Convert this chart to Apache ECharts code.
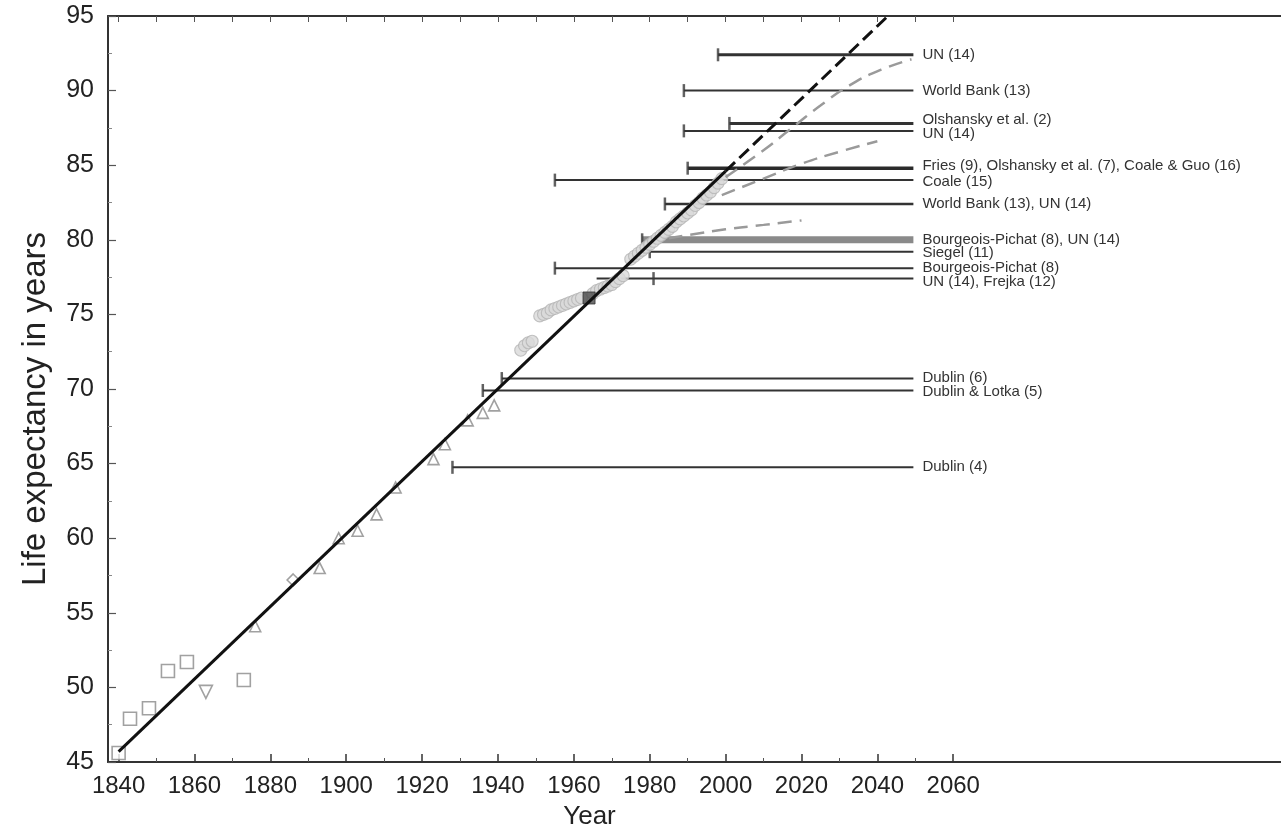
<!DOCTYPE html>
<html><head><meta charset="utf-8">
<script src="https://cdn.jsdelivr.net/npm/echarts@6/dist/echarts.min.js"></script>
<style>html,body{margin:0;padding:0;background:#fff}#c{width:1281px;height:840px}</style>
</head><body><div id="c"></div>
<script>
// ---- tick labels ----
const xTickLabels = [1840,1860,1880,1900,1920,1940,1960,1980,2000,2020,2040,2060];
const xMinorTicks = [1850,1870,1890,1910,1930,1950,1970,1990,2010,2030,2050];

// ---- trend line (record female life expectancy) ----
const trendSolid = [[1840,45.7],[2000,84.6]];
const trendDashed = [[2000,84.6],[2043,95.05]];

// ---- projection curves (gray dashed) ----
const projHigh = [[2000,84.2],[2010,86.0],[2017,87.4],[2025,89.0],[2033,90.4],[2041,91.4],[2049,92.1]];
const projMid  = [[1999,83.0],[2010,84.1],[2020,85.1],[2030,85.9],[2040,86.6]];
const projLow  = [[1985,80.1],[2000,80.7],[2010,81.0],[2020,81.3]];

// ---- asserted ceilings ----
const ceilNames = ['UN (14)','World Bank (13)','Olshansky et al. (2)','UN (14)',
  'Fries (9), Olshansky et al. (7), Coale & Guo (16)','Coale (15)','World Bank (13), UN (14)',
  'Bourgeois-Pichat (8), UN (14)','Siegel (11)','Bourgeois-Pichat (8)','UN (14), Frejka (12)',
  'Dublin (6)','Dublin & Lotka (5)','Dublin (4)'];
const ceilValues = [92.4,90.0,87.8,87.3,84.8,84.0,82.4,80.0,79.2,78.1,77.4,70.7,69.9,64.75];
const ceilStarts = [1998,1989,2001,1989,1990,1955,1984,1978,1980,1955,1966,1941,1936,1928];
const ceilEnd = 2049.5;
// publication-year ticks at the left end of the ceilings
const pubTickYears  = [1998,1989,2001,1989,1990,1955,1984,1978,1980,1955,1981,1941,1936,1928];
const pubTickValues = [92.4,90.0,87.8,87.3,84.8,84.0,82.4,80.0,79.2,78.1,77.4,70.7,69.9,64.75];

// ---- observed records ----
const squareYears = [1840,1843,1848,1853,1858,1873];
const squareValues = [45.6,47.9,48.6,51.1,51.7,50.5];
const downTriYears = [1863];
const downTriValues = [49.7];
const upTriYears = [1876,1893,1898,1903,1908,1913,1923,1926,1932,1936,1939];
const upTriValues = [54.1,58.0,60.0,60.5,61.6,63.4,65.3,66.3,67.9,68.4,68.9];
const diamondYears = [1886];
const diamondValues = [57.2];
const circleYears = [1946,1947,1948,1949,1951,1952,1953,1954,1955,1956,1957,1958,1959,1960,1961,1962,
  1965,1966,1967,1968,1969,1970,1971,1972,1973,1975,1976,1977,1978,1979,1980,1981,1982,1983,1984,
  1985,1986,1987,1988,1989,1990,1991,1992,1993,1994,1995,1996,1997,1998,1999];
const circleValues = [72.6,72.9,73.1,73.2,74.9,75.0,75.1,75.3,75.4,75.5,75.6,75.7,75.8,75.9,76.0,76.1,
  76.4,76.6,76.7,76.8,76.9,77.0,77.2,77.4,77.6,78.7,78.9,79.1,79.3,79.5,79.7,79.9,80.1,80.3,80.5,
  80.7,80.9,81.2,81.4,81.6,81.8,82.0,82.3,82.5,82.8,83.0,83.2,83.5,83.8,84.1];
const darkSquareYears = [1964];
const darkSquareValues = [76.1];

// ---- styles (not data) ----
const ceilWidth = [3,2,3,2,3.5,2,2.5,7,2,2,2,2,2,2];
const ceilColor = ['#333','#333','#333','#333','#2a2a2a','#333','#333','#8a8a8a','#333','#333','#333','#333','#333','#333'];
const ceilLabelDy = [0,0,-4,3,-2,2,0,0,1,0,3,-1,1,0];

const FONT = "'Liberation Sans', Arial, sans-serif";
const zip = (a,b) => a.map((v,i)=>[v,b[i]]);

const series = [];
ceilNames.forEach((nm,i)=>{
  series.push({
    type:'line', name:nm, z:2, silent:true, symbol:'none',
    data:[[ceilStarts[i],ceilValues[i]],[ceilEnd,ceilValues[i]]],
    lineStyle:{color:ceilColor[i], width:ceilWidth[i]},
    endLabel:{show:true, formatter:nm, fontFamily:FONT, fontSize:15, color:'#333', distance:9, offset:[0,ceilLabelDy[i]]}
  });
});
series.push({
  type:'scatter', z:3, symbol:'rect', symbolSize:[2.5,13],
  itemStyle:{color:'#3a3a3a'},
  data: zip(pubTickYears, pubTickValues)
});
const hollow = {color:'#fff', borderColor:'#8a8a8a', borderWidth:1.6};
series.push({type:'scatter', z:4, symbol:'rect', symbolSize:13, itemStyle:hollow, data:zip(squareYears,squareValues)});
series.push({type:'scatter', z:4, symbol:'triangle', symbolRotate:180, symbolSize:13, itemStyle:hollow, data:zip(downTriYears,downTriValues)});
series.push({type:'scatter', z:4, symbol:'triangle', symbolSize:11, itemStyle:hollow, data:zip(upTriYears,upTriValues)});
series.push({type:'scatter', z:4, symbol:'diamond', symbolSize:12, itemStyle:hollow, data:zip(diamondYears,diamondValues)});
series.push({type:'scatter', z:4, symbol:'circle', symbolSize:12,
  itemStyle:{color:'#dadada', borderColor:'#b4b4b4', borderWidth:1.1}, data:zip(circleYears,circleValues)});
series.push({type:'scatter', z:5, symbol:'rect', symbolSize:12,
  itemStyle:{color:'#4a4a4a', borderColor:'#333', borderWidth:1}, data:zip(darkSquareYears,darkSquareValues)});
series.push({type:'line', z:6, symbol:'none', clip:true, smooth:true, data:projHigh,
  lineStyle:{color:'#9a9a9a', width:2.5, type:[14,8]}});
series.push({type:'line', z:6, symbol:'none', clip:true, smooth:true, data:projMid,
  lineStyle:{color:'#9a9a9a', width:2.5, type:[14,8]}});
series.push({type:'line', z:6, symbol:'none', clip:true, smooth:true, data:projLow,
  lineStyle:{color:'#9a9a9a', width:2.5, type:[14,8]}});
series.push({type:'line', z:7, symbol:'none', clip:true, data:trendSolid,
  lineStyle:{color:'#111', width:3}});
series.push({type:'line', z:7, symbol:'none', clip:true, data:trendDashed,
  lineStyle:{color:'#111', width:3, type:[13,6]}});

const X_MIN = 1837.2, X_MAX = 2146.4;
const chart = echarts.init(document.getElementById('c'), null, {renderer:'canvas'});
chart.setOption({
  animation:false,
  backgroundColor:'#fff',
  grid:{left:108, right:-2, top:16, bottom:78},
  xAxis:[
    {type:'value', position:'bottom', min:X_MIN, max:X_MAX,
     axisLine:{show:true, lineStyle:{color:'#333', width:2}},
     axisTick:{show:true, inside:true, length:8, customValues:xTickLabels, lineStyle:{color:'#333', width:1.5}},
     axisLabel:{show:true, customValues:xTickLabels, formatter:v=>String(Math.round(v)), fontFamily:FONT, fontSize:24, color:'#222', margin:12},
     splitLine:{show:false},
     name:'Year', nameLocation:'middle', nameGap:42,
     nameTextStyle:{fontFamily:FONT, fontSize:26, color:'#222', padding:[0,210,0,0]}},
    {type:'value', position:'bottom', min:X_MIN, max:X_MAX,
     axisLine:{show:false},
     axisTick:{show:true, inside:true, length:4, customValues:xMinorTicks, lineStyle:{color:'#555', width:1}},
     axisLabel:{show:false}, splitLine:{show:false}},
    {type:'value', position:'top', min:X_MIN, max:X_MAX,
     axisLine:{show:true, lineStyle:{color:'#333', width:2}},
     axisTick:{show:true, inside:true, length:6, customValues:xTickLabels.concat(xMinorTicks), lineStyle:{color:'#555', width:1}},
     axisLabel:{show:false}, splitLine:{show:false}}
  ],
  yAxis:[
    {type:'value', min:45, max:95, interval:5, position:'left',
     axisLine:{show:true, lineStyle:{color:'#333', width:2}},
     axisTick:{show:true, inside:true, length:8, lineStyle:{color:'#555', width:1.2}},
     minorTick:{show:true, splitNumber:2, length:4, lineStyle:{color:'#888', width:1}},
     axisLabel:{fontFamily:FONT, fontSize:25, color:'#222', margin:14},
     splitLine:{show:false},
     name:'Life expectancy in years', nameLocation:'middle', nameGap:56,
     nameTextStyle:{fontFamily:FONT, fontSize:33, color:'#222', padding:[0,40,0,0]}}
  ],
  series: series
});
</script>
</body></html>
